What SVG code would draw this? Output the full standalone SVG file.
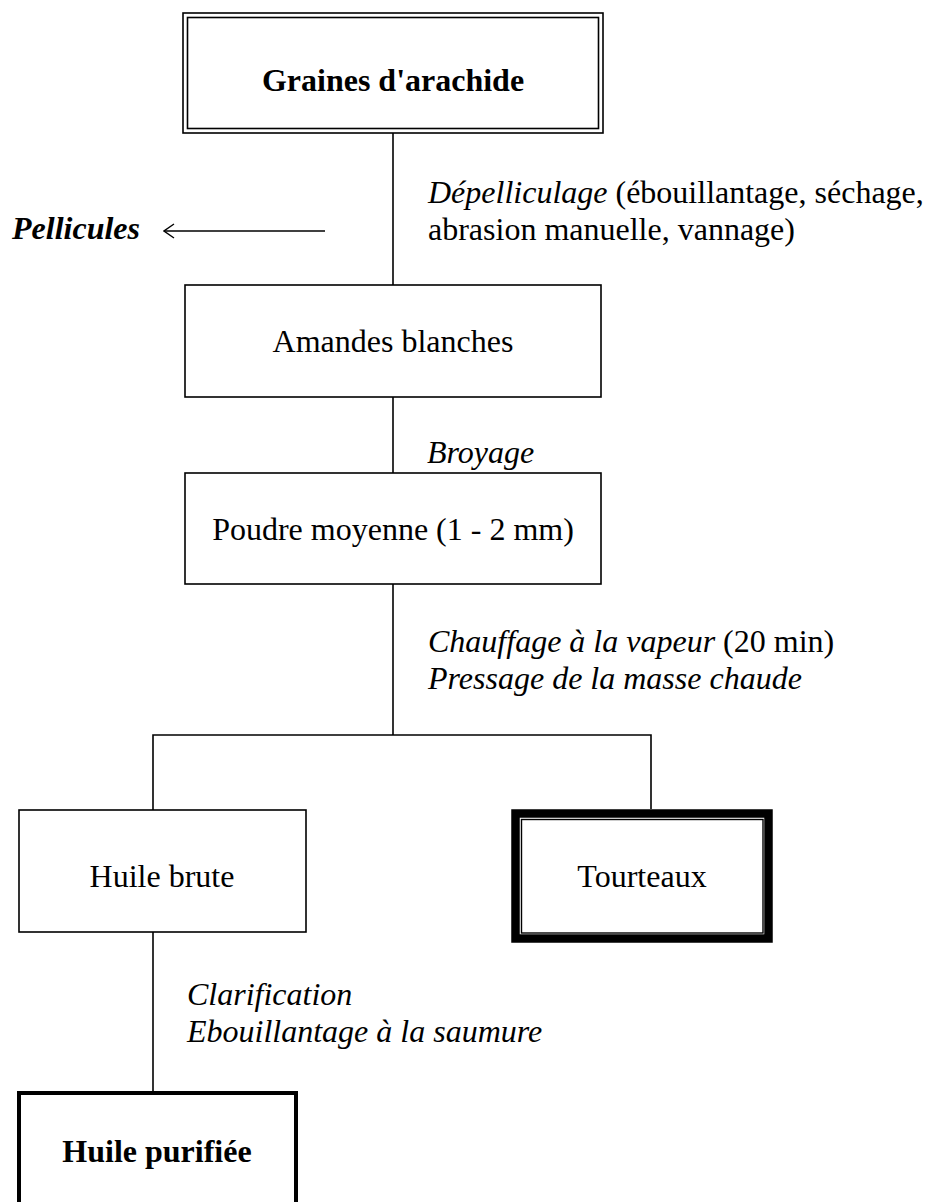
<svg xmlns="http://www.w3.org/2000/svg" width="925" height="1202" viewBox="0 0 925 1202">
<style>
.box{fill:#fff;stroke:#000;stroke-width:1.6}
.ln{fill:none;stroke:#000;stroke-width:1.6}
text{font-family:"Liberation Serif","Times New Roman",serif;font-size:32px;fill:#000}
.it{font-style:italic}
.b{font-weight:bold}
.c{text-anchor:middle}
</style>
<defs>
<marker id="open" viewBox="0 0 12 16" refX="11" refY="8" markerWidth="12" markerHeight="16" markerUnits="userSpaceOnUse" orient="auto">
<path d="M1,1 L11,8 L1,15" fill="none" stroke="#000" stroke-width="1.4"/>
</marker>
</defs>
<rect width="925" height="1202" fill="#fff"/>
<g id="connectors">
<line class="ln" x1="393" y1="133" x2="393" y2="285"/>
<line class="ln" x1="393" y1="397" x2="393" y2="473"/>
<line class="ln" x1="393" y1="584" x2="393" y2="735"/>
<polyline class="ln" points="153,810 153,735 651,735 651,809"/>
<line class="ln" x1="153" y1="932" x2="153" y2="1093"/>
<line class="ln" x1="325" y1="231" x2="164" y2="231" marker-end="url(#open)"/>
</g>
<g id="node-graines">
<rect class="box" x="183" y="13" width="420" height="120" stroke-width="2"/>
<rect class="box" x="187.5" y="17.5" width="411" height="111"/>
<text class="b c" x="393" y="91">Graines d'arachide</text>
</g>
<g id="label-depelliculage">
<text x="428" y="203"><tspan class="it">Dépelliculage</tspan> (ébouillantage, séchage,</text>
<text x="428" y="240">abrasion manuelle, vannage)</text>
</g>
<g id="node-pellicules">
<text class="b it" x="12" y="239">Pellicules</text>
</g>
<g id="node-amandes">
<rect class="box" x="185" y="285" width="416" height="112"/>
<text class="c" x="393" y="352">Amandes blanches</text>
</g>
<g id="label-broyage">
<text class="it" x="427" y="463">Broyage</text>
</g>
<g id="node-poudre">
<rect class="box" x="185" y="473" width="416" height="111"/>
<text class="c" x="393" y="540">Poudre moyenne (1 - 2 mm)</text>
</g>
<g id="label-chauffage">
<text x="428" y="652"><tspan class="it">Chauffage à la vapeur</tspan> (20 min)</text>
<text class="it" x="428" y="689">Pressage de la masse chaude</text>
</g>
<g id="node-huile-brute">
<rect class="box" x="19" y="810" width="287" height="122"/>
<text class="c" x="162" y="887">Huile brute</text>
</g>
<g id="node-tourteaux">
<rect x="515.5" y="813.5" width="253" height="125" fill="#fff" stroke="#000" stroke-width="8.5"/>
<rect x="521.5" y="819.5" width="241.5" height="113.5" fill="none" stroke="#000" stroke-width="1.4"/>
<text class="c" x="642" y="887">Tourteaux</text>
</g>
<g id="label-clarification">
<text class="it" x="187" y="1005">Clarification</text>
<text class="it" x="187" y="1042">Ebouillantage à la saumure</text>
</g>
<g id="node-huile-purifiee">
<rect x="19" y="1093" width="277" height="130" fill="#fff" stroke="#000" stroke-width="4"/>
<text class="b c" x="157" y="1162">Huile purifiée</text>
</g>
</svg>
